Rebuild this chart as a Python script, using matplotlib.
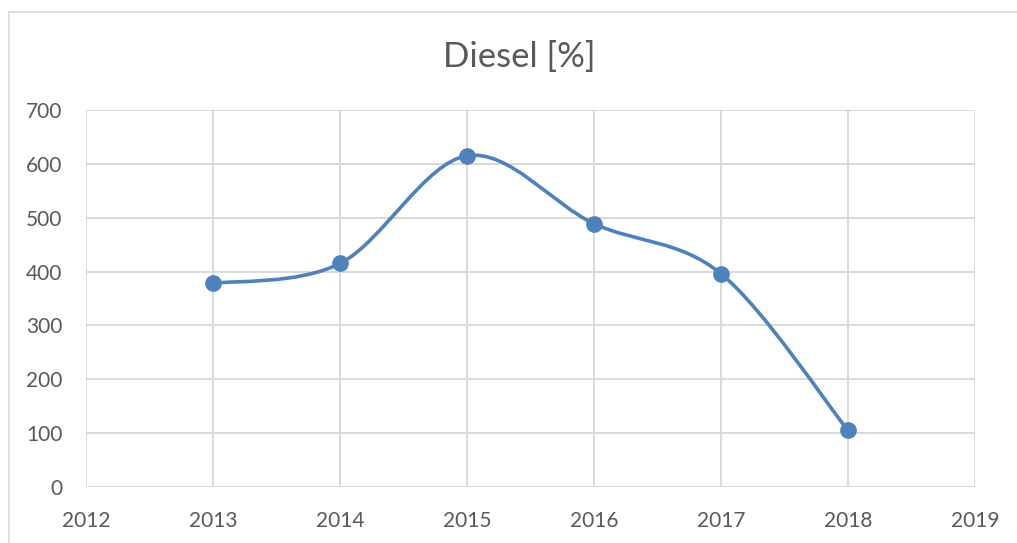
import matplotlib
matplotlib.use("Agg")
import matplotlib.pyplot as plt
from matplotlib.path import Path
from matplotlib.patches import PathPatch, Rectangle

years = [2013, 2014, 2015, 2016, 2017, 2018]
values = [378, 415, 615, 489, 396, 105]
title = "Diesel [%]"
xticks = [2012, 2013, 2014, 2015, 2016, 2017, 2018, 2019]
yticks = [0, 100, 200, 300, 400, 500, 600, 700]

LINE = "#4F81BD"
GRID = "#D9D9D9"
TXT = "#595959"
plt.rcParams['font.family'] = ['Lato', 'DejaVu Sans']

fig = plt.figure(figsize=(10.17, 5.43), dpi=100)
W, H = 1017, 543
ax = fig.add_axes([86 / W, 1 - 487 / H, (975 - 86) / W, (487 - 110) / H])

# chart border
fig.patches.append(Rectangle((9 / W, -0.1), 1.2, 1 - 12 / H + 0.1, transform=fig.transFigure,
                             fill=False, edgecolor=GRID, linewidth=1.2, zorder=0))

ax.set_xlim(2012, 2019)
ax.set_ylim(0, 700)
ax.set_xticks(xticks)
ax.set_yticks(yticks)
ax.grid(True, color=GRID, linewidth=1.4)
ax.set_axisbelow(True)
for s in ax.spines.values():
    s.set_visible(False)
ax.tick_params(length=0, labelsize=15, labelcolor=TXT)
ax.tick_params(axis='x', pad=17)
ax.tick_params(axis='y', pad=17)

# smooth curve (Catmull-Rom Bezier, like Excel smoothing)
pts = list(zip(years, values))
n = len(pts)
verts = [pts[0]]
codes = [Path.MOVETO]
for i in range(n - 1):
    p0 = pts[i - 1] if i > 0 else pts[i]
    p1 = pts[i]
    p2 = pts[i + 1]
    p3 = pts[i + 2] if i + 2 < n else pts[i + 1]
    c1 = (p1[0] + (p2[0] - p0[0]) / 6, p1[1] + (p2[1] - p0[1]) / 6)
    c2 = (p2[0] - (p3[0] - p1[0]) / 6, p2[1] - (p3[1] - p1[1]) / 6)
    verts += [c1, c2, p2]
    codes += [Path.CURVE4] * 3
ax.add_patch(PathPatch(Path(verts, codes), fill=False, edgecolor=LINE, linewidth=2.6,
                       capstyle='round', joinstyle='round', zorder=3))
ax.plot(years, values, linestyle='none', marker='o', markersize=11, color=LINE, zorder=4)

fig.text(519 / W, 1 - 57 / H, title, ha='center', va='center', fontsize=25, color=TXT)

fig.savefig("out.png", dpi=100)
